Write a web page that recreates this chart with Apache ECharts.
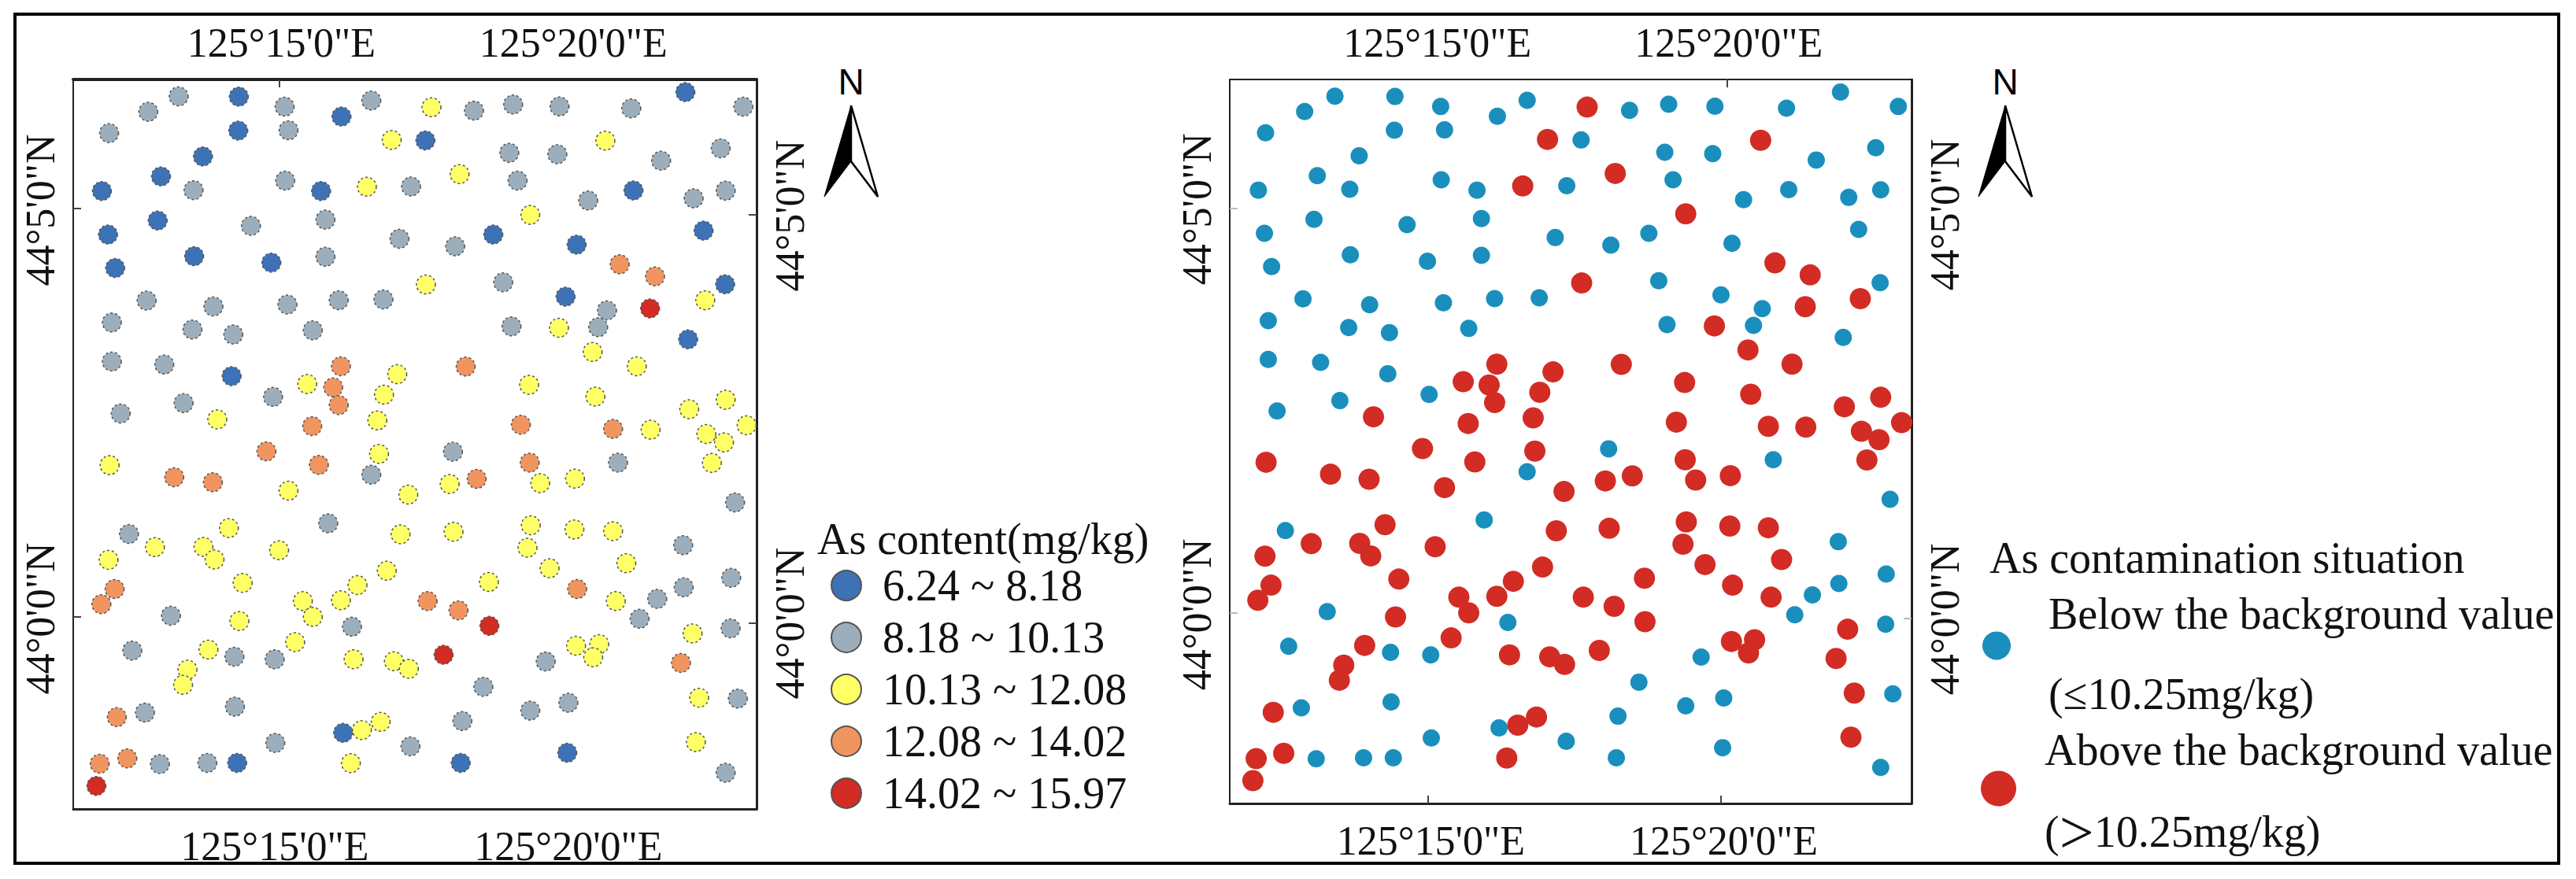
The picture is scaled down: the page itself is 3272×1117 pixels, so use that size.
<!DOCTYPE html>
<html>
<head>
<meta charset="utf-8">
<title>As content and contamination</title>
<style>
  html, body { margin: 0; padding: 0; background: #fff; }
  #chart { width: 3272px; height: 1117px; }
</style>
<script src="https://cdn.jsdelivr.net/npm/echarts@6/dist/echarts.min.js"></script>
</head>
<body>
<div id="chart"></div>
<script>
// sampling sites: easting grows to the right, southing grows downward
var siteEast = [
  323, 268, 432, 515, 618, 672, 781, 858, 929, 1013, 1143, 1241, 1346,
  197, 431, 522, 709, 770, 1096, 922, 1009, 1197, 1305, 367, 291, 516,
  350, 184, 581, 664, 744, 832, 937, 1065, 1147, 1256, 1314, 285, 454,
  589, 960, 195, 723, 893, 824, 1044, 1274, 351, 491, 589, 208, 1122,
  1186, 771, 911, 1313, 1024, 265, 386, 520, 613, 694, 1277, 1099, 1177,
  202, 348, 422, 566, 926, 1012, 1083, 1246, 1073, 202, 297, 1153, 617,
  843, 719, 419, 556, 603, 958, 494, 695, 1078, 332, 1314, 613, 218,
  1248, 393, 683, 565, 943, 1352, 1110, 1178, 1279, 1311,
  482, 686, 820, 198, 577, 959, 1119, 1289, 315, 385, 672, 814, 863,
  978, 1041, 522, 739, 1331, 594, 414, 233, 725, 821, 961, 1040, 1110,
  280, 368, 505, 955, 1237, 196, 388, 1134, 995, 700, 1324, 439, 885,
  647, 207, 1045, 1238, 183, 548, 617, 774, 1115, 1190, 830, 566, 309,
  1158, 433, 637, 886, 1323, 1254, 534, 377, 239, 1043, 1085, 424, 497,
  640, 803, 713, 1074, 988, 1233, 740, 339, 331, 875, 1266, 1336, 425,
  1029, 960, 262, 211, 837, 689, 655, 621, 498, 743, 1260, 1027, 230,
  180, 289, 375, 429, 635, 834, 1314, 174
];
var siteSouth = [
  343, 398, 344, 380, 415, 358, 382, 394, 372, 379, 386, 328, 380,
  474, 465, 464, 498, 500, 501, 544, 549, 572, 528, 557, 628, 643,
  677, 680, 680, 665, 664, 620, 643, 714, 678, 706, 679, 785, 804,
  782, 765, 835, 850, 835, 877, 871, 821, 912, 935, 914, 954, 941,
  984, 1013, 1005, 1012, 1056, 1070, 1091, 1084, 1069, 1066, 1069, 1105, 1098,
  1148, 1173, 1191, 1176, 1162, 1167, 1165, 1208, 1253, 1287, 1298, 1304, 1304,
  1305, 1332, 1339, 1367, 1379, 1370, 1413, 1405, 1412, 1435, 1423, 1442, 1472,
  1457, 1493, 1497, 1517, 1512, 1514, 1527, 1530, 1545, 1575,
  1607, 1616, 1608, 1656, 1655, 1647, 1647, 1648, 1699, 1717, 1690, 1723, 1705,
  1720, 1704, 1747, 1761, 1789, 1863, 1880, 1901, 1902, 1893, 1870, 1885, 1891,
  1948, 1947, 1959, 1950, 1941, 1993, 1992, 2005, 2023, 2032, 2057, 2075, 2072,
  2083, 2097, 2097, 2091, 2151, 2140, 2137, 2140, 2140, 2132, 2173, 2196, 2192,
  2203, 2211, 2231, 2228, 2237, 2255, 2286, 2313, 2316, 2299, 2293, 2338, 2347,
  2347, 2331, 2354, 2340, 2355, 2360, 2381, 2384, 2438, 2445, 2484, 2487, 2516,
  2502, 2530, 2537, 2553, 2567, 2570, 2599, 2609, 2645, 2657, 2642, 2680, 2700,
  2719, 2720, 2716, 2716, 2717, 2716, 2751, 2798
];
// index into contentRanges for each site
var siteClass = [
  1, 1, 0, 1, 0, 1, 2, 1, 1, 1, 1, 0, 1,
  1, 0, 1, 2, 0, 2, 1, 1, 1, 1, 0, 0, 1,
  1, 0, 0, 2, 1, 2, 1, 1, 0, 1, 1, 0, 1,
  1, 2, 0, 1, 0, 1, 0, 0, 0, 0, 1, 0, 3,
  3, 2, 1, 0, 0, 1, 1, 1, 1, 1, 2, 1, 4,
  1, 1, 1, 1, 1, 2, 1, 0, 2, 1, 1, 2, 3,
  3, 2, 0, 2, 3, 2, 1, 2, 2, 1, 2, 3, 1,
  2, 2, 2, 3, 3, 2, 3, 2, 2, 2,
  3, 2, 1, 2, 3, 3, 1, 2, 3, 3, 1, 2, 3,
  2, 2, 2, 2, 1, 1, 2, 1, 2, 2, 2, 2, 2,
  2, 2, 2, 2, 1, 2, 2, 2, 2, 2, 1, 2, 2,
  2, 3, 3, 1, 3, 2, 2, 3, 2, 1, 3, 2, 1,
  1, 2, 1, 4, 1, 2, 2, 2, 1, 2, 2, 1, 1,
  2, 4, 2, 2, 1, 3, 2, 2, 2, 1, 2, 1, 1,
  1, 1, 1, 3, 1, 2, 2, 0, 1, 1, 2, 0, 3,
  3, 1, 1, 0, 2, 0, 1, 4
];

var contentTitle = 'As content(mg/kg)';
var contentRanges = ['6.24 ~ 8.18', '8.18 ~ 10.13', '10.13 ~ 12.08', '12.08 ~ 14.02', '14.02 ~ 15.97'];
var contentColors = ['#3E72B6', '#9CAEBB', '#FFFF66', '#F0955F', '#D22C24'];
var situationTitle = 'As contamination situation';
var belowName = 'Below the background value';
var aboveName = 'Above the background value';

var lonLabels = ['125°15\'0"E', '125°20\'0"E'];
var latLabels = ['44°5\'0"N', '44°0\'0"N'];
// where the graticule labels sit on the sheet
var lonTopAt = [509, 1038];
var lonBottomAt = [497, 1029];
var latLeftAt = [748, 2202];
var latRightAt = [768, 2219];

(function() {
  var serif = '"Liberation Serif", serif';
  var ink = '#111';
  var frame = '#222';
  var eastMin = 132, eastMax = 1370, southMin = 283, southMax = 2880;

  function pick(test) {
    var out = [];
    for (var i = 0; i < siteEast.length; i++) {
      if (test(siteClass[i])) out.push([siteEast[i], siteSouth[i]]);
    }
    return out;
  }

  function labelFrom(values, labels) {
    return function(v) { return labels[values.indexOf(v)]; };
  }

  function ticks(at, color) {
    if (!at.length) return { show: false };
    return { show: true, inside: true, length: 10, customValues: at, lineStyle: { color: color || '#444', width: 2 } };
  }

  function xAxis(gridIndex, position, labelAt, lineWidth, tickAt) {
    return {
      type: 'value', gridIndex: gridIndex, position: position, min: eastMin, max: eastMax,
      splitLine: { show: false },
      axisLine: { show: true, onZero: false, lineStyle: { color: frame, width: lineWidth } },
      axisTick: ticks(tickAt),
      axisLabel: {
        customValues: labelAt, margin: 21,
        formatter: labelFrom(labelAt, lonLabels),
        fontFamily: serif, fontSize: 52, color: ink
      }
    };
  }

  function yAxis(gridIndex, position, labelAt, lineWidth, tickAt, tickColor) {
    return {
      type: 'value', gridIndex: gridIndex, position: position, inverse: true, min: southMin, max: southMax,
      splitLine: { show: false },
      axisLine: { show: true, onZero: false, lineStyle: { color: frame, width: lineWidth } },
      axisTick: ticks(tickAt, tickColor),
      axisLabel: {
        customValues: labelAt, rotate: 90, margin: 16,
        formatter: labelFrom(labelAt, latLabels),
        fontFamily: serif, fontSize: 52, color: ink
      }
    };
  }

  function northArrow(cx) {
    return [
      { type: 'text', x: cx, y: 104, style: { text: 'N', font: '46px "Liberation Sans", sans-serif', fill: '#000', align: 'center', verticalAlign: 'middle' } },
      { type: 'polygon', shape: { points: [[cx, 134], [cx - 34, 250], [cx, 205]] }, style: { fill: '#000', stroke: '#000', lineWidth: 1 } },
      { type: 'polygon', shape: { points: [[cx, 134], [cx + 34, 250], [cx, 205]] }, style: { fill: '#fff', stroke: '#000', lineWidth: 2.5 } }
    ];
  }

  var series = [];
  contentRanges.forEach(function(name, k) {
    series.push({
      name: name, type: 'scatter', xAxisIndex: 0, yAxisIndex: 0,
      symbolSize: 24,
      itemStyle: { color: contentColors[k], opacity: 1, borderColor: '#555', borderWidth: 1.5, borderType: [3, 3] },
      data: pick(function(c) { return c === k; })
    });
  });
  series.push({
    name: belowName, type: 'scatter', xAxisIndex: 2, yAxisIndex: 2,
    symbolSize: 22,
    itemStyle: { color: '#1A8FBD', opacity: 1 },
    data: pick(function(c) { return c < 2; })
  });
  series.push({
    name: aboveName, type: 'scatter', xAxisIndex: 2, yAxisIndex: 2,
    symbolSize: 27,
    itemStyle: { color: '#D22C24', opacity: 1 },
    data: pick(function(c) { return c >= 2; })
  });

  var chart = echarts.init(document.getElementById('chart'), null, { renderer: 'svg' });
  chart.setOption({
    animation: false,
    backgroundColor: '#fff',
    grid: [
      { left: 93, top: 101, width: 868, height: 927 },
      { left: 1562, top: 101, width: 866, height: 920 }
    ],
    xAxis: [
      xAxis(0, 'bottom', lonBottomAt, 3, []),
      xAxis(0, 'top', lonTopAt, 4, [505]),
      xAxis(1, 'bottom', lonBottomAt, 3, [492, 1024]),
      xAxis(1, 'top', lonTopAt, 2, [1035])
    ],
    yAxis: [
      yAxis(0, 'left', latLeftAt, 2, [742, 2196]),
      yAxis(0, 'right', latRightAt, 3, [765, 2217]),
      yAxis(1, 'left', latLeftAt, 2, [746, 2196], '#bbb'),
      yAxis(1, 'right', latRightAt, 3, [2217], '#bbb')
    ],
    legend: [
      {
        data: contentRanges, orient: 'vertical', left: 1050, top: 711,
        itemWidth: 38, itemHeight: 38, itemGap: 10, selectedMode: false,
        textStyle: { fontFamily: serif, fontSize: 56, color: ink, padding: [0, 0, 0, 22] }
      },
      {
        data: [belowName], left: 2513, top: 729,
        itemWidth: 36, itemHeight: 36, selectedMode: false,
        // the spacer line sets the label a little lower than the marker
        formatter: function() { return '{sp| }\n' + belowName + '\n\n(≤10.25mg/kg)'; },
        textStyle: {
          fontFamily: serif, fontSize: 56, lineHeight: 51, color: ink, padding: [0, 0, 0, 43],
          rich: { sp: { fontSize: 10, lineHeight: 20 } }
        }
      },
      {
        data: [aboveName], left: 2511, top: 916,
        itemWidth: 45, itemHeight: 45, selectedMode: false,
        formatter: function() { return aboveName + '\n\n({gt|>}10.25mg/kg)'; },
        textStyle: {
          fontFamily: serif, fontSize: 56, lineHeight: 52, color: ink, padding: [6, 0, 0, 31],
          rich: { gt: { fontFamily: serif, fontSize: 78, lineHeight: 52, color: ink } }
        }
      }
    ],
    graphic: [
      { type: 'rect', shape: { x: 19, y: 18, width: 3231, height: 1079 }, style: { fill: 'none', stroke: '#000', lineWidth: 4 } },
      { type: 'text', x: 1038, y: 685, style: { text: contentTitle, font: '56px "Liberation Serif", serif', fill: ink, verticalAlign: 'middle' } },
      { type: 'text', x: 2527, y: 709, style: { text: situationTitle, font: '56px "Liberation Serif", serif', fill: ink, verticalAlign: 'middle' } }
    ].concat(northArrow(1081), northArrow(2547)),
    series: series
  });
  window.addEventListener('resize', function() { chart.resize(); });
})();
</script>
</body>
</html>
